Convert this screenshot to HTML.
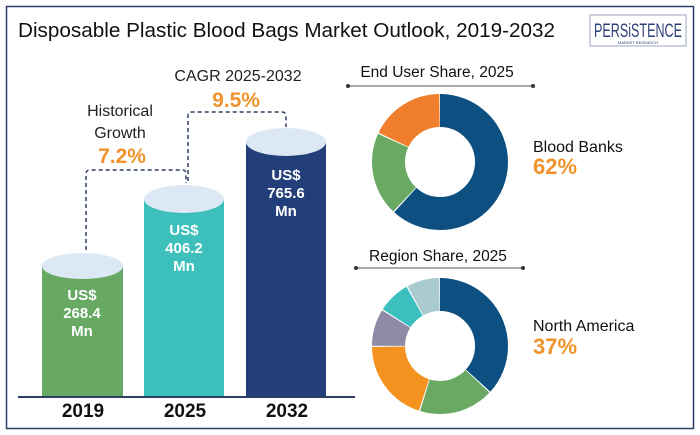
<!DOCTYPE html><html><head><style>body{margin:0;background:#fff}svg{display:block}text{font-family:"Liberation Sans",sans-serif}</style></head><body>
<svg width="700" height="435" viewBox="0 0 700 435" xmlns="http://www.w3.org/2000/svg">
<rect x="0" y="0" width="700" height="435" fill="#fff"/>
<rect x="6.5" y="6.5" width="687" height="422" fill="none" stroke="#2c3e63" stroke-width="1.5"/>
<text x="18" y="37" font-size="20" fill="#111" textLength="537" lengthAdjust="spacingAndGlyphs">Disposable Plastic Blood Bags Market Outlook, 2019-2032</text>
<rect x="590" y="15" width="96" height="31" fill="#fff" stroke="#9aa6c0" stroke-width="1"/>
<text x="638" y="37" font-size="19" text-anchor="middle" fill="#2c3e7a" textLength="88" lengthAdjust="spacingAndGlyphs">PERSiSTENCE</text>
<text x="638" y="44" font-size="4" text-anchor="middle" fill="#2c3e7a">MARKET RESEARCH</text>
<g fill="none" stroke="#2c3e63" stroke-width="1.5" stroke-dasharray="4,3">
<path d="M86 250 V174 Q86 170 90 170 H182 Q186 170 186 174 V183"/>
<path d="M188 181 V116 Q188 112 192 112 H282 Q286 112 286 116 V127"/>
</g>
<text x="120" y="116" font-size="16" text-anchor="middle" fill="#222">Historical</text>
<text x="120" y="138" font-size="16" text-anchor="middle" fill="#222">Growth</text>
<text x="122" y="163" font-size="21" font-weight="bold" text-anchor="middle" fill="#f0932b">7.2%</text>
<text x="238" y="81" font-size="16" text-anchor="middle" fill="#222">CAGR 2025-2032</text>
<text x="236" y="107" font-size="21" font-weight="bold" text-anchor="middle" fill="#f0932b">9.5%</text>
<rect x="42" y="266" width="81" height="130" fill="#67a963"/><ellipse cx="82.5" cy="266" rx="40.5" ry="13" fill="#dde8f5"/>
<rect x="144" y="199" width="80" height="197" fill="#3dbfbb"/><ellipse cx="184" cy="199" rx="40" ry="14" fill="#dde8f5"/>
<rect x="246" y="142" width="80" height="254" fill="#223f7a"/><ellipse cx="286" cy="142" rx="40" ry="14" fill="#dde8f5"/>
<line x1="18" y1="397" x2="355" y2="397" stroke="#2c3e63" stroke-width="2"/>
<g font-size="15" font-weight="bold" fill="#fff" text-anchor="middle">
<text x="82" y="300">US$</text><text x="82" y="318">268.4</text><text x="82" y="336">Mn</text>
<text x="184" y="235">US$</text><text x="184" y="253">406.2</text><text x="184" y="271">Mn</text>
<text x="286" y="180">US$</text><text x="286" y="198">765.6</text><text x="286" y="216">Mn</text>
</g>
<g font-size="19" font-weight="bold" fill="#111" text-anchor="middle">
<text x="83" y="417">2019</text><text x="185" y="417">2025</text><text x="287" y="417">2032</text></g>
<text x="437" y="77" font-size="15.5" text-anchor="middle" fill="#111">End User Share, 2025</text>
<line x1="348" y1="86" x2="533" y2="86" stroke="#555" stroke-width="1"/><circle cx="348" cy="86" r="2" fill="#333"/><circle cx="533" cy="86" r="2" fill="#333"/>
<text x="438" y="261" font-size="15.5" text-anchor="middle" fill="#111">Region Share, 2025</text>
<line x1="356" y1="268" x2="523" y2="268" stroke="#555" stroke-width="1"/><circle cx="356" cy="268" r="2" fill="#333"/><circle cx="523" cy="268" r="2" fill="#333"/>
<g font-size="16" fill="#111"><text x="533" y="152">Blood Banks</text><text x="533" y="331">North America</text></g>
<g font-size="22" font-weight="bold" fill="#f0932b"><text x="533" y="174">62%</text><text x="533" y="354">37%</text></g>
<g transform="translate(440,162) rotate(-90)" fill="none" stroke-width="33">
<circle r="51.5" stroke="#0d4f80" stroke-dasharray="199.6 400" stroke-dashoffset="0"/>
<circle r="51.5" stroke="#69a963" stroke-dasharray="63.7 400" stroke-dashoffset="-200.6"/>
<circle r="51.5" stroke="#ef7f2c" stroke-dasharray="57.3 400" stroke-dashoffset="-265.3"/>
</g>
<g transform="translate(440,346) rotate(-90)" fill="none" stroke-width="33">
<circle r="51.5" stroke="#0d4f80" stroke-dasharray="118.7 400" stroke-dashoffset="0"/>
<circle r="51.5" stroke="#69a963" stroke-dasharray="57.2 400" stroke-dashoffset="-119.7"/>
<circle r="51.5" stroke="#f4921f" stroke-dasharray="63.7 400" stroke-dashoffset="-177.9"/>
<circle r="51.5" stroke="#8f8aa6" stroke-dasharray="28.1 400" stroke-dashoffset="-242.6"/>
<circle r="51.5" stroke="#3bbfbf" stroke-dasharray="24.9 400" stroke-dashoffset="-271.7"/>
<circle r="51.5" stroke="#a9cbcf" stroke-dasharray="25 400" stroke-dashoffset="-297.6"/>
</g>
</svg></body></html>
